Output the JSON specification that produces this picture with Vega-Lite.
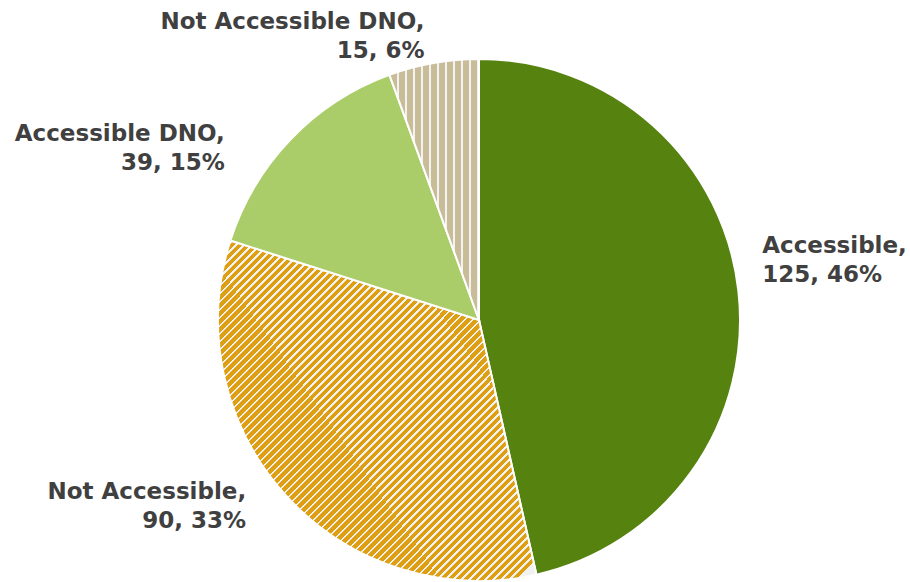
{
"$schema": "https://vega.github.io/schema/vega-lite/v6.json",
"width": 522, "height": 522,
"autosize": {"type": "none"},
"padding": {"left": 218, "top": 59, "right": 170, "bottom": 1},
"background": "white",
"config": {"view": {"stroke": null}},
"data": {"values": [
 {"cat": "Accessible", "value": 125, "pct": 46, "ord": 1},
 {"cat": "Not Accessible", "value": 90, "pct": 33, "ord": 2},
 {"cat": "Accessible DNO", "value": 39, "pct": 15, "ord": 3},
 {"cat": "Not Accessible DNO", "value": 15, "pct": 6, "ord": 4}
]},
"transform": [{"calculate": "datum.cat + ',\\n' + datum.value + ', ' + datum.pct + '%'", "as": "label"}],
"encoding": {
 "theta": {"field": "value", "type": "quantitative", "stack": true},
 "order": {"field": "ord", "type": "quantitative"},
 "detail": {"field": "cat", "type": "nominal"}
},
"layer": [
 {"mark": {"type": "arc", "stroke": "white", "strokeWidth": 2},
  "encoding": {"fill": {"condition": [
   {"test": "datum.cat === 'Not Accessible'", "value": {"gradient": "linear", "x1": 0, "y1": 0, "x2": 0.94, "y2": 1, "stops": [
{"offset":0,"color":"#DF9F12"},{"offset":0.0085,"color":"#DF9F12"},{"offset":0.0085,"color":"#F2F2F2"},{"offset":0.0125,"color":"#F2F2F2"},
{"offset":0.0125,"color":"#DF9F12"},{"offset":0.021,"color":"#DF9F12"},{"offset":0.021,"color":"#F2F2F2"},{"offset":0.025,"color":"#F2F2F2"},
{"offset":0.025,"color":"#DF9F12"},{"offset":0.0335,"color":"#DF9F12"},{"offset":0.0335,"color":"#F2F2F2"},{"offset":0.0375,"color":"#F2F2F2"},
{"offset":0.0375,"color":"#DF9F12"},{"offset":0.046,"color":"#DF9F12"},{"offset":0.046,"color":"#F2F2F2"},{"offset":0.05,"color":"#F2F2F2"},
{"offset":0.05,"color":"#DF9F12"},{"offset":0.0585,"color":"#DF9F12"},{"offset":0.0585,"color":"#F2F2F2"},{"offset":0.0625,"color":"#F2F2F2"},
{"offset":0.0625,"color":"#DF9F12"},{"offset":0.071,"color":"#DF9F12"},{"offset":0.071,"color":"#F2F2F2"},{"offset":0.075,"color":"#F2F2F2"},
{"offset":0.075,"color":"#DF9F12"},{"offset":0.0835,"color":"#DF9F12"},{"offset":0.0835,"color":"#F2F2F2"},{"offset":0.0875,"color":"#F2F2F2"},
{"offset":0.0875,"color":"#DF9F12"},{"offset":0.096,"color":"#DF9F12"},{"offset":0.096,"color":"#F2F2F2"},{"offset":0.1,"color":"#F2F2F2"},
{"offset":0.1,"color":"#DF9F12"},{"offset":0.1085,"color":"#DF9F12"},{"offset":0.1085,"color":"#F2F2F2"},{"offset":0.1125,"color":"#F2F2F2"},
{"offset":0.1125,"color":"#DF9F12"},{"offset":0.121,"color":"#DF9F12"},{"offset":0.121,"color":"#F2F2F2"},{"offset":0.125,"color":"#F2F2F2"},
{"offset":0.125,"color":"#DF9F12"},{"offset":0.1335,"color":"#DF9F12"},{"offset":0.1335,"color":"#F2F2F2"},{"offset":0.1375,"color":"#F2F2F2"},
{"offset":0.1375,"color":"#DF9F12"},{"offset":0.146,"color":"#DF9F12"},{"offset":0.146,"color":"#F2F2F2"},{"offset":0.15,"color":"#F2F2F2"},
{"offset":0.15,"color":"#DF9F12"},{"offset":0.1585,"color":"#DF9F12"},{"offset":0.1585,"color":"#F2F2F2"},{"offset":0.1625,"color":"#F2F2F2"},
{"offset":0.1625,"color":"#DF9F12"},{"offset":0.171,"color":"#DF9F12"},{"offset":0.171,"color":"#F2F2F2"},{"offset":0.175,"color":"#F2F2F2"},
{"offset":0.175,"color":"#DF9F12"},{"offset":0.1835,"color":"#DF9F12"},{"offset":0.1835,"color":"#F2F2F2"},{"offset":0.1875,"color":"#F2F2F2"},
{"offset":0.1875,"color":"#DF9F12"},{"offset":0.196,"color":"#DF9F12"},{"offset":0.196,"color":"#F2F2F2"},{"offset":0.2,"color":"#F2F2F2"},
{"offset":0.2,"color":"#DF9F12"},{"offset":0.2085,"color":"#DF9F12"},{"offset":0.2085,"color":"#F2F2F2"},{"offset":0.2125,"color":"#F2F2F2"},
{"offset":0.2125,"color":"#DF9F12"},{"offset":0.221,"color":"#DF9F12"},{"offset":0.221,"color":"#F2F2F2"},{"offset":0.225,"color":"#F2F2F2"},
{"offset":0.225,"color":"#DF9F12"},{"offset":0.2335,"color":"#DF9F12"},{"offset":0.2335,"color":"#F2F2F2"},{"offset":0.2375,"color":"#F2F2F2"},
{"offset":0.2375,"color":"#DF9F12"},{"offset":0.246,"color":"#DF9F12"},{"offset":0.246,"color":"#F2F2F2"},{"offset":0.25,"color":"#F2F2F2"},
{"offset":0.25,"color":"#DF9F12"},{"offset":0.2585,"color":"#DF9F12"},{"offset":0.2585,"color":"#F2F2F2"},{"offset":0.2625,"color":"#F2F2F2"},
{"offset":0.2625,"color":"#DF9F12"},{"offset":0.271,"color":"#DF9F12"},{"offset":0.271,"color":"#F2F2F2"},{"offset":0.275,"color":"#F2F2F2"},
{"offset":0.275,"color":"#DF9F12"},{"offset":0.2835,"color":"#DF9F12"},{"offset":0.2835,"color":"#F2F2F2"},{"offset":0.2875,"color":"#F2F2F2"},
{"offset":0.2875,"color":"#DF9F12"},{"offset":0.296,"color":"#DF9F12"},{"offset":0.296,"color":"#F2F2F2"},{"offset":0.3,"color":"#F2F2F2"},
{"offset":0.3,"color":"#DF9F12"},{"offset":0.3085,"color":"#DF9F12"},{"offset":0.3085,"color":"#F2F2F2"},{"offset":0.3125,"color":"#F2F2F2"},
{"offset":0.3125,"color":"#DF9F12"},{"offset":0.321,"color":"#DF9F12"},{"offset":0.321,"color":"#F2F2F2"},{"offset":0.325,"color":"#F2F2F2"},
{"offset":0.325,"color":"#DF9F12"},{"offset":0.3335,"color":"#DF9F12"},{"offset":0.3335,"color":"#F2F2F2"},{"offset":0.3375,"color":"#F2F2F2"},
{"offset":0.3375,"color":"#DF9F12"},{"offset":0.346,"color":"#DF9F12"},{"offset":0.346,"color":"#F2F2F2"},{"offset":0.35,"color":"#F2F2F2"},
{"offset":0.35,"color":"#DF9F12"},{"offset":0.3585,"color":"#DF9F12"},{"offset":0.3585,"color":"#F2F2F2"},{"offset":0.3625,"color":"#F2F2F2"},
{"offset":0.3625,"color":"#DF9F12"},{"offset":0.371,"color":"#DF9F12"},{"offset":0.371,"color":"#F2F2F2"},{"offset":0.375,"color":"#F2F2F2"},
{"offset":0.375,"color":"#DF9F12"},{"offset":0.3835,"color":"#DF9F12"},{"offset":0.3835,"color":"#F2F2F2"},{"offset":0.3875,"color":"#F2F2F2"},
{"offset":0.3875,"color":"#DF9F12"},{"offset":0.396,"color":"#DF9F12"},{"offset":0.396,"color":"#F2F2F2"},{"offset":0.4,"color":"#F2F2F2"},
{"offset":0.4,"color":"#DF9F12"},{"offset":0.4085,"color":"#DF9F12"},{"offset":0.4085,"color":"#F2F2F2"},{"offset":0.4125,"color":"#F2F2F2"},
{"offset":0.4125,"color":"#DF9F12"},{"offset":0.421,"color":"#DF9F12"},{"offset":0.421,"color":"#F2F2F2"},{"offset":0.425,"color":"#F2F2F2"},
{"offset":0.425,"color":"#DF9F12"},{"offset":0.4335,"color":"#DF9F12"},{"offset":0.4335,"color":"#F2F2F2"},{"offset":0.4375,"color":"#F2F2F2"},
{"offset":0.4375,"color":"#DF9F12"},{"offset":0.446,"color":"#DF9F12"},{"offset":0.446,"color":"#F2F2F2"},{"offset":0.45,"color":"#F2F2F2"},
{"offset":0.45,"color":"#DF9F12"},{"offset":0.4585,"color":"#DF9F12"},{"offset":0.4585,"color":"#F2F2F2"},{"offset":0.4625,"color":"#F2F2F2"},
{"offset":0.4625,"color":"#DF9F12"},{"offset":0.471,"color":"#DF9F12"},{"offset":0.471,"color":"#F2F2F2"},{"offset":0.475,"color":"#F2F2F2"},
{"offset":0.475,"color":"#DF9F12"},{"offset":0.4835,"color":"#DF9F12"},{"offset":0.4835,"color":"#F2F2F2"},{"offset":0.4875,"color":"#F2F2F2"},
{"offset":0.4875,"color":"#DF9F12"},{"offset":0.496,"color":"#DF9F12"},{"offset":0.496,"color":"#F2F2F2"},{"offset":0.5,"color":"#F2F2F2"},
{"offset":0.5,"color":"#DF9F12"},{"offset":0.5085,"color":"#DF9F12"},{"offset":0.5085,"color":"#F2F2F2"},{"offset":0.5125,"color":"#F2F2F2"},
{"offset":0.5125,"color":"#DF9F12"},{"offset":0.521,"color":"#DF9F12"},{"offset":0.521,"color":"#F2F2F2"},{"offset":0.525,"color":"#F2F2F2"},
{"offset":0.525,"color":"#DF9F12"},{"offset":0.5335,"color":"#DF9F12"},{"offset":0.5335,"color":"#F2F2F2"},{"offset":0.5375,"color":"#F2F2F2"},
{"offset":0.5375,"color":"#DF9F12"},{"offset":0.546,"color":"#DF9F12"},{"offset":0.546,"color":"#F2F2F2"},{"offset":0.55,"color":"#F2F2F2"},
{"offset":0.55,"color":"#DF9F12"},{"offset":0.5585,"color":"#DF9F12"},{"offset":0.5585,"color":"#F2F2F2"},{"offset":0.5625,"color":"#F2F2F2"},
{"offset":0.5625,"color":"#DF9F12"},{"offset":0.571,"color":"#DF9F12"},{"offset":0.571,"color":"#F2F2F2"},{"offset":0.575,"color":"#F2F2F2"},
{"offset":0.575,"color":"#DF9F12"},{"offset":0.5835,"color":"#DF9F12"},{"offset":0.5835,"color":"#F2F2F2"},{"offset":0.5875,"color":"#F2F2F2"},
{"offset":0.5875,"color":"#DF9F12"},{"offset":0.596,"color":"#DF9F12"},{"offset":0.596,"color":"#F2F2F2"},{"offset":0.6,"color":"#F2F2F2"},
{"offset":0.6,"color":"#DF9F12"},{"offset":0.6085,"color":"#DF9F12"},{"offset":0.6085,"color":"#F2F2F2"},{"offset":0.6125,"color":"#F2F2F2"},
{"offset":0.6125,"color":"#DF9F12"},{"offset":0.621,"color":"#DF9F12"},{"offset":0.621,"color":"#F2F2F2"},{"offset":0.625,"color":"#F2F2F2"},
{"offset":0.625,"color":"#DF9F12"},{"offset":0.6335,"color":"#DF9F12"},{"offset":0.6335,"color":"#F2F2F2"},{"offset":0.6375,"color":"#F2F2F2"},
{"offset":0.6375,"color":"#DF9F12"},{"offset":0.646,"color":"#DF9F12"},{"offset":0.646,"color":"#F2F2F2"},{"offset":0.65,"color":"#F2F2F2"},
{"offset":0.65,"color":"#DF9F12"},{"offset":0.6585,"color":"#DF9F12"},{"offset":0.6585,"color":"#F2F2F2"},{"offset":0.6625,"color":"#F2F2F2"},
{"offset":0.6625,"color":"#DF9F12"},{"offset":0.671,"color":"#DF9F12"},{"offset":0.671,"color":"#F2F2F2"},{"offset":0.675,"color":"#F2F2F2"},
{"offset":0.675,"color":"#DF9F12"},{"offset":0.6835,"color":"#DF9F12"},{"offset":0.6835,"color":"#F2F2F2"},{"offset":0.6875,"color":"#F2F2F2"},
{"offset":0.6875,"color":"#DF9F12"},{"offset":0.696,"color":"#DF9F12"},{"offset":0.696,"color":"#F2F2F2"},{"offset":0.7,"color":"#F2F2F2"},
{"offset":0.7,"color":"#DF9F12"},{"offset":0.7085,"color":"#DF9F12"},{"offset":0.7085,"color":"#F2F2F2"},{"offset":0.7125,"color":"#F2F2F2"},
{"offset":0.7125,"color":"#DF9F12"},{"offset":0.721,"color":"#DF9F12"},{"offset":0.721,"color":"#F2F2F2"},{"offset":0.725,"color":"#F2F2F2"},
{"offset":0.725,"color":"#DF9F12"},{"offset":0.7335,"color":"#DF9F12"},{"offset":0.7335,"color":"#F2F2F2"},{"offset":0.7375,"color":"#F2F2F2"},
{"offset":0.7375,"color":"#DF9F12"},{"offset":0.746,"color":"#DF9F12"},{"offset":0.746,"color":"#F2F2F2"},{"offset":0.75,"color":"#F2F2F2"},
{"offset":0.75,"color":"#DF9F12"},{"offset":0.7585,"color":"#DF9F12"},{"offset":0.7585,"color":"#F2F2F2"},{"offset":0.7625,"color":"#F2F2F2"},
{"offset":0.7625,"color":"#DF9F12"},{"offset":0.771,"color":"#DF9F12"},{"offset":0.771,"color":"#F2F2F2"},{"offset":0.775,"color":"#F2F2F2"},
{"offset":0.775,"color":"#DF9F12"},{"offset":0.7835,"color":"#DF9F12"},{"offset":0.7835,"color":"#F2F2F2"},{"offset":0.7875,"color":"#F2F2F2"},
{"offset":0.7875,"color":"#DF9F12"},{"offset":0.796,"color":"#DF9F12"},{"offset":0.796,"color":"#F2F2F2"},{"offset":0.8,"color":"#F2F2F2"},
{"offset":0.8,"color":"#DF9F12"},{"offset":0.8085,"color":"#DF9F12"},{"offset":0.8085,"color":"#F2F2F2"},{"offset":0.8125,"color":"#F2F2F2"},
{"offset":0.8125,"color":"#DF9F12"},{"offset":0.821,"color":"#DF9F12"},{"offset":0.821,"color":"#F2F2F2"},{"offset":0.825,"color":"#F2F2F2"},
{"offset":0.825,"color":"#DF9F12"},{"offset":0.8335,"color":"#DF9F12"},{"offset":0.8335,"color":"#F2F2F2"},{"offset":0.8375,"color":"#F2F2F2"},
{"offset":0.8375,"color":"#DF9F12"},{"offset":0.846,"color":"#DF9F12"},{"offset":0.846,"color":"#F2F2F2"},{"offset":0.85,"color":"#F2F2F2"},
{"offset":0.85,"color":"#DF9F12"},{"offset":0.8585,"color":"#DF9F12"},{"offset":0.8585,"color":"#F2F2F2"},{"offset":0.8625,"color":"#F2F2F2"},
{"offset":0.8625,"color":"#DF9F12"},{"offset":0.871,"color":"#DF9F12"},{"offset":0.871,"color":"#F2F2F2"},{"offset":0.875,"color":"#F2F2F2"},
{"offset":0.875,"color":"#DF9F12"},{"offset":0.8835,"color":"#DF9F12"},{"offset":0.8835,"color":"#F2F2F2"},{"offset":0.8875,"color":"#F2F2F2"},
{"offset":0.8875,"color":"#DF9F12"},{"offset":0.896,"color":"#DF9F12"},{"offset":0.896,"color":"#F2F2F2"},{"offset":0.9,"color":"#F2F2F2"},
{"offset":0.9,"color":"#DF9F12"},{"offset":0.9085,"color":"#DF9F12"},{"offset":0.9085,"color":"#F2F2F2"},{"offset":0.9125,"color":"#F2F2F2"},
{"offset":0.9125,"color":"#DF9F12"},{"offset":0.921,"color":"#DF9F12"},{"offset":0.921,"color":"#F2F2F2"},{"offset":0.925,"color":"#F2F2F2"},
{"offset":0.925,"color":"#DF9F12"},{"offset":0.9335,"color":"#DF9F12"},{"offset":0.9335,"color":"#F2F2F2"},{"offset":0.9375,"color":"#F2F2F2"},
{"offset":0.9375,"color":"#DF9F12"},{"offset":0.946,"color":"#DF9F12"},{"offset":0.946,"color":"#F2F2F2"},{"offset":0.95,"color":"#F2F2F2"},
{"offset":0.95,"color":"#DF9F12"},{"offset":0.9585,"color":"#DF9F12"},{"offset":0.9585,"color":"#F2F2F2"},{"offset":0.9625,"color":"#F2F2F2"},
{"offset":0.9625,"color":"#DF9F12"},{"offset":0.971,"color":"#DF9F12"},{"offset":0.971,"color":"#F2F2F2"},{"offset":0.975,"color":"#F2F2F2"},
{"offset":0.975,"color":"#DF9F12"},{"offset":0.9835,"color":"#DF9F12"},{"offset":0.9835,"color":"#F2F2F2"},{"offset":0.9875,"color":"#F2F2F2"},
{"offset":0.9875,"color":"#DF9F12"},{"offset":0.996,"color":"#DF9F12"},{"offset":0.996,"color":"#F2F2F2"},{"offset":1,"color":"#F2F2F2"}
   ]}},
   {"test": "datum.cat === 'Not Accessible DNO'", "value": {"gradient": "linear", "x1": 0, "y1": 0, "x2": 1, "y2": 0, "stops": [
{"offset":0,"color":"#C8BD98"},{"offset":0.085,"color":"#C8BD98"},{"offset":0.085,"color":"#F2F2F2"},{"offset":0.109,"color":"#F2F2F2"},
{"offset":0.109,"color":"#C8BD98"},{"offset":0.174,"color":"#C8BD98"},{"offset":0.174,"color":"#F2F2F2"},{"offset":0.198,"color":"#F2F2F2"},
{"offset":0.198,"color":"#C8BD98"},{"offset":0.263,"color":"#C8BD98"},{"offset":0.263,"color":"#F2F2F2"},{"offset":0.287,"color":"#F2F2F2"},
{"offset":0.287,"color":"#C8BD98"},{"offset":0.352,"color":"#C8BD98"},{"offset":0.352,"color":"#F2F2F2"},{"offset":0.376,"color":"#F2F2F2"},
{"offset":0.376,"color":"#C8BD98"},{"offset":0.442,"color":"#C8BD98"},{"offset":0.442,"color":"#F2F2F2"},{"offset":0.466,"color":"#F2F2F2"},
{"offset":0.466,"color":"#C8BD98"},{"offset":0.531,"color":"#C8BD98"},{"offset":0.531,"color":"#F2F2F2"},{"offset":0.555,"color":"#F2F2F2"},
{"offset":0.555,"color":"#C8BD98"},{"offset":0.62,"color":"#C8BD98"},{"offset":0.62,"color":"#F2F2F2"},{"offset":0.644,"color":"#F2F2F2"},
{"offset":0.644,"color":"#C8BD98"},{"offset":0.709,"color":"#C8BD98"},{"offset":0.709,"color":"#F2F2F2"},{"offset":0.733,"color":"#F2F2F2"},
{"offset":0.733,"color":"#C8BD98"},{"offset":0.798,"color":"#C8BD98"},{"offset":0.798,"color":"#F2F2F2"},{"offset":0.822,"color":"#F2F2F2"},
{"offset":0.822,"color":"#C8BD98"},{"offset":0.887,"color":"#C8BD98"},{"offset":0.887,"color":"#F2F2F2"},{"offset":0.911,"color":"#F2F2F2"},
{"offset":0.911,"color":"#C8BD98"},{"offset":0.977,"color":"#C8BD98"},{"offset":0.977,"color":"#F2F2F2"},{"offset":1,"color":"#F2F2F2"}
   ]}},
   {"test": "datum.cat === 'Accessible DNO'", "value": "#ABCD69"}
  ], "value": "#568210"}}},
 {"mark": {"type": "text", "radius": 290, "align": "left", "baseline": "middle", "dx": -5, "dy": -42, "font": "DejaVu Sans", "fontWeight": "bold", "fontSize": 23, "lineHeight": 29, "lineBreak": "\n", "fill": "#404040"},
  "encoding": {"text": {"condition": {"test": "datum.cat === 'Accessible'", "field": "label"}, "value": ""}}},
 {"mark": {"type": "text", "radius": 290, "align": "right", "baseline": "middle", "dx": -19, "dy": -24, "font": "DejaVu Sans", "fontWeight": "bold", "fontSize": 23, "lineHeight": 29, "lineBreak": "\n", "fill": "#404040"},
  "encoding": {"text": {"condition": {"test": "datum.cat === 'Not Accessible'", "field": "label"}, "value": ""}}},
 {"mark": {"type": "text", "radius": 290, "align": "right", "baseline": "middle", "dx": -45, "dy": 15, "font": "DejaVu Sans", "fontWeight": "bold", "fontSize": 23, "lineHeight": 29, "lineBreak": "\n", "fill": "#404040"},
  "encoding": {"text": {"condition": {"test": "datum.cat === 'Accessible DNO'", "field": "label"}, "value": ""}}},
 {"mark": {"type": "text", "radius": 290, "align": "right", "baseline": "middle", "dx": -4, "dy": -12, "font": "DejaVu Sans", "fontWeight": "bold", "fontSize": 23, "lineHeight": 29, "lineBreak": "\n", "fill": "#404040"},
  "encoding": {"text": {"condition": {"test": "datum.cat === 'Not Accessible DNO'", "field": "label"}, "value": ""}}}
]
}
